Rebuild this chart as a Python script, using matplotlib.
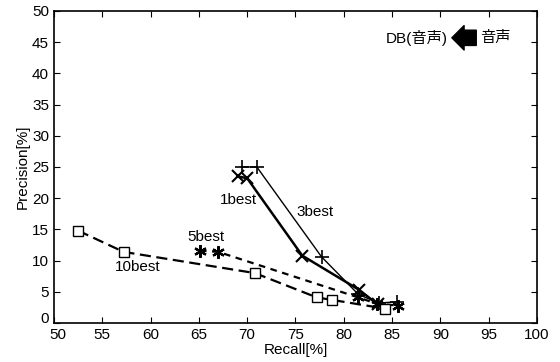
import matplotlib.pyplot as plt
from matplotlib.transforms import ScaledTranslation

plt.rcParams.update({
    "font.family": ["Liberation Sans", "Noto Sans CJK JP"],
    "font.size": 11,
    "xtick.labelsize": 11,
    "ytick.labelsize": 11,
})

# Recall / Precision values
best1_recall = [69.0, 70.0, 75.7, 81.6, 83.5]
best1_prec = [23.5, 23.2, 10.8, 5.3, 3.0]
best3_recall = [69.5, 71.0, 77.7, 81.5, 83.6, 85.5]
best3_prec = [25.0, 25.0, 10.6, 4.6, 3.2, 3.4]
best5_recall = [65.1, 67.0, 81.5, 83.4, 85.6]
best5_prec = [11.6, 11.4, 4.1, 3.1, 2.8]
best10_recall = [52.5, 57.2, 70.8, 77.2, 78.8, 84.3]
best10_prec = [14.8, 11.4, 8.0, 4.1, 3.7, 2.3]

fig = plt.figure(figsize=(5.6, 3.62), dpi=100)
ax = fig.add_axes([0.0964, 0.1077, 0.8625, 0.862])

ax.plot(best1_recall, best1_prec, '-x', color='black', linewidth=1.8,
        markersize=9, markeredgewidth=1.5)
ax.plot(best3_recall, best3_prec, '-+', color='black', linewidth=1.0,
        markersize=10, markeredgewidth=1.2)
ax.plot(best5_recall, best5_prec, '--', color='black', linewidth=1.6, dashes=(3, 2.5))
ax.plot(best5_recall, best5_prec, linestyle='none', marker=(6, 2, 0), color='black',
        markersize=9, markeredgewidth=1.6)
ax.plot(best10_recall, best10_prec, '--s', color='black', linewidth=1.6, dashes=(5, 2.5),
        markersize=7, markerfacecolor='white', markeredgewidth=1.0)

ax.text(67.2, 19.7, "1best", va='center', fontsize=11)
ax.text(75.1, 17.8, "3best", va='center', fontsize=11)
ax.text(63.8, 13.8, "5best", va='center', fontsize=11)
ax.text(56.3, 8.9, "10best", va='center', fontsize=11)

# DB(音声) <- 音声
ax.text(90.8, 45.7, "DB(音声)", ha='right', va='center', fontsize=11)
ax.annotate('', xy=(90.9, 45.7), xytext=(94.0, 45.7),
            arrowprops=dict(arrowstyle='simple,head_width=1.6,head_length=0.8,tail_width=1.0',
                            color='black'))
ax.text(94.1, 45.7, "音声", ha='left', va='center', fontsize=11)

ax.set_xlim(50, 100)
ax.set_ylim(0, 50)
ax.set_xticks(range(50, 101, 5))
ax.set_yticks(range(0, 51, 5))
ax.tick_params(direction='in', top=True, right=True, length=4)
for s in ax.spines.values():
    s.set_linewidth(1.2)
ax.set_xlabel("Recall[%]", labelpad=1)
ax.set_ylabel("Precision[%]", labelpad=2)

# lift the "0" label off the x-axis labels like the original
fig.canvas.draw()
ylab0 = ax.get_yticklabels()[0]
ylab0.set_transform(ylab0.get_transform() + ScaledTranslation(0, 4 / 72, fig.dpi_scale_trans))
xlab0 = ax.get_xticklabels()[0]
xlab0.set_transform(xlab0.get_transform() + ScaledTranslation(3 / 72, 0, fig.dpi_scale_trans))

fig.savefig("out.png", dpi=100)
